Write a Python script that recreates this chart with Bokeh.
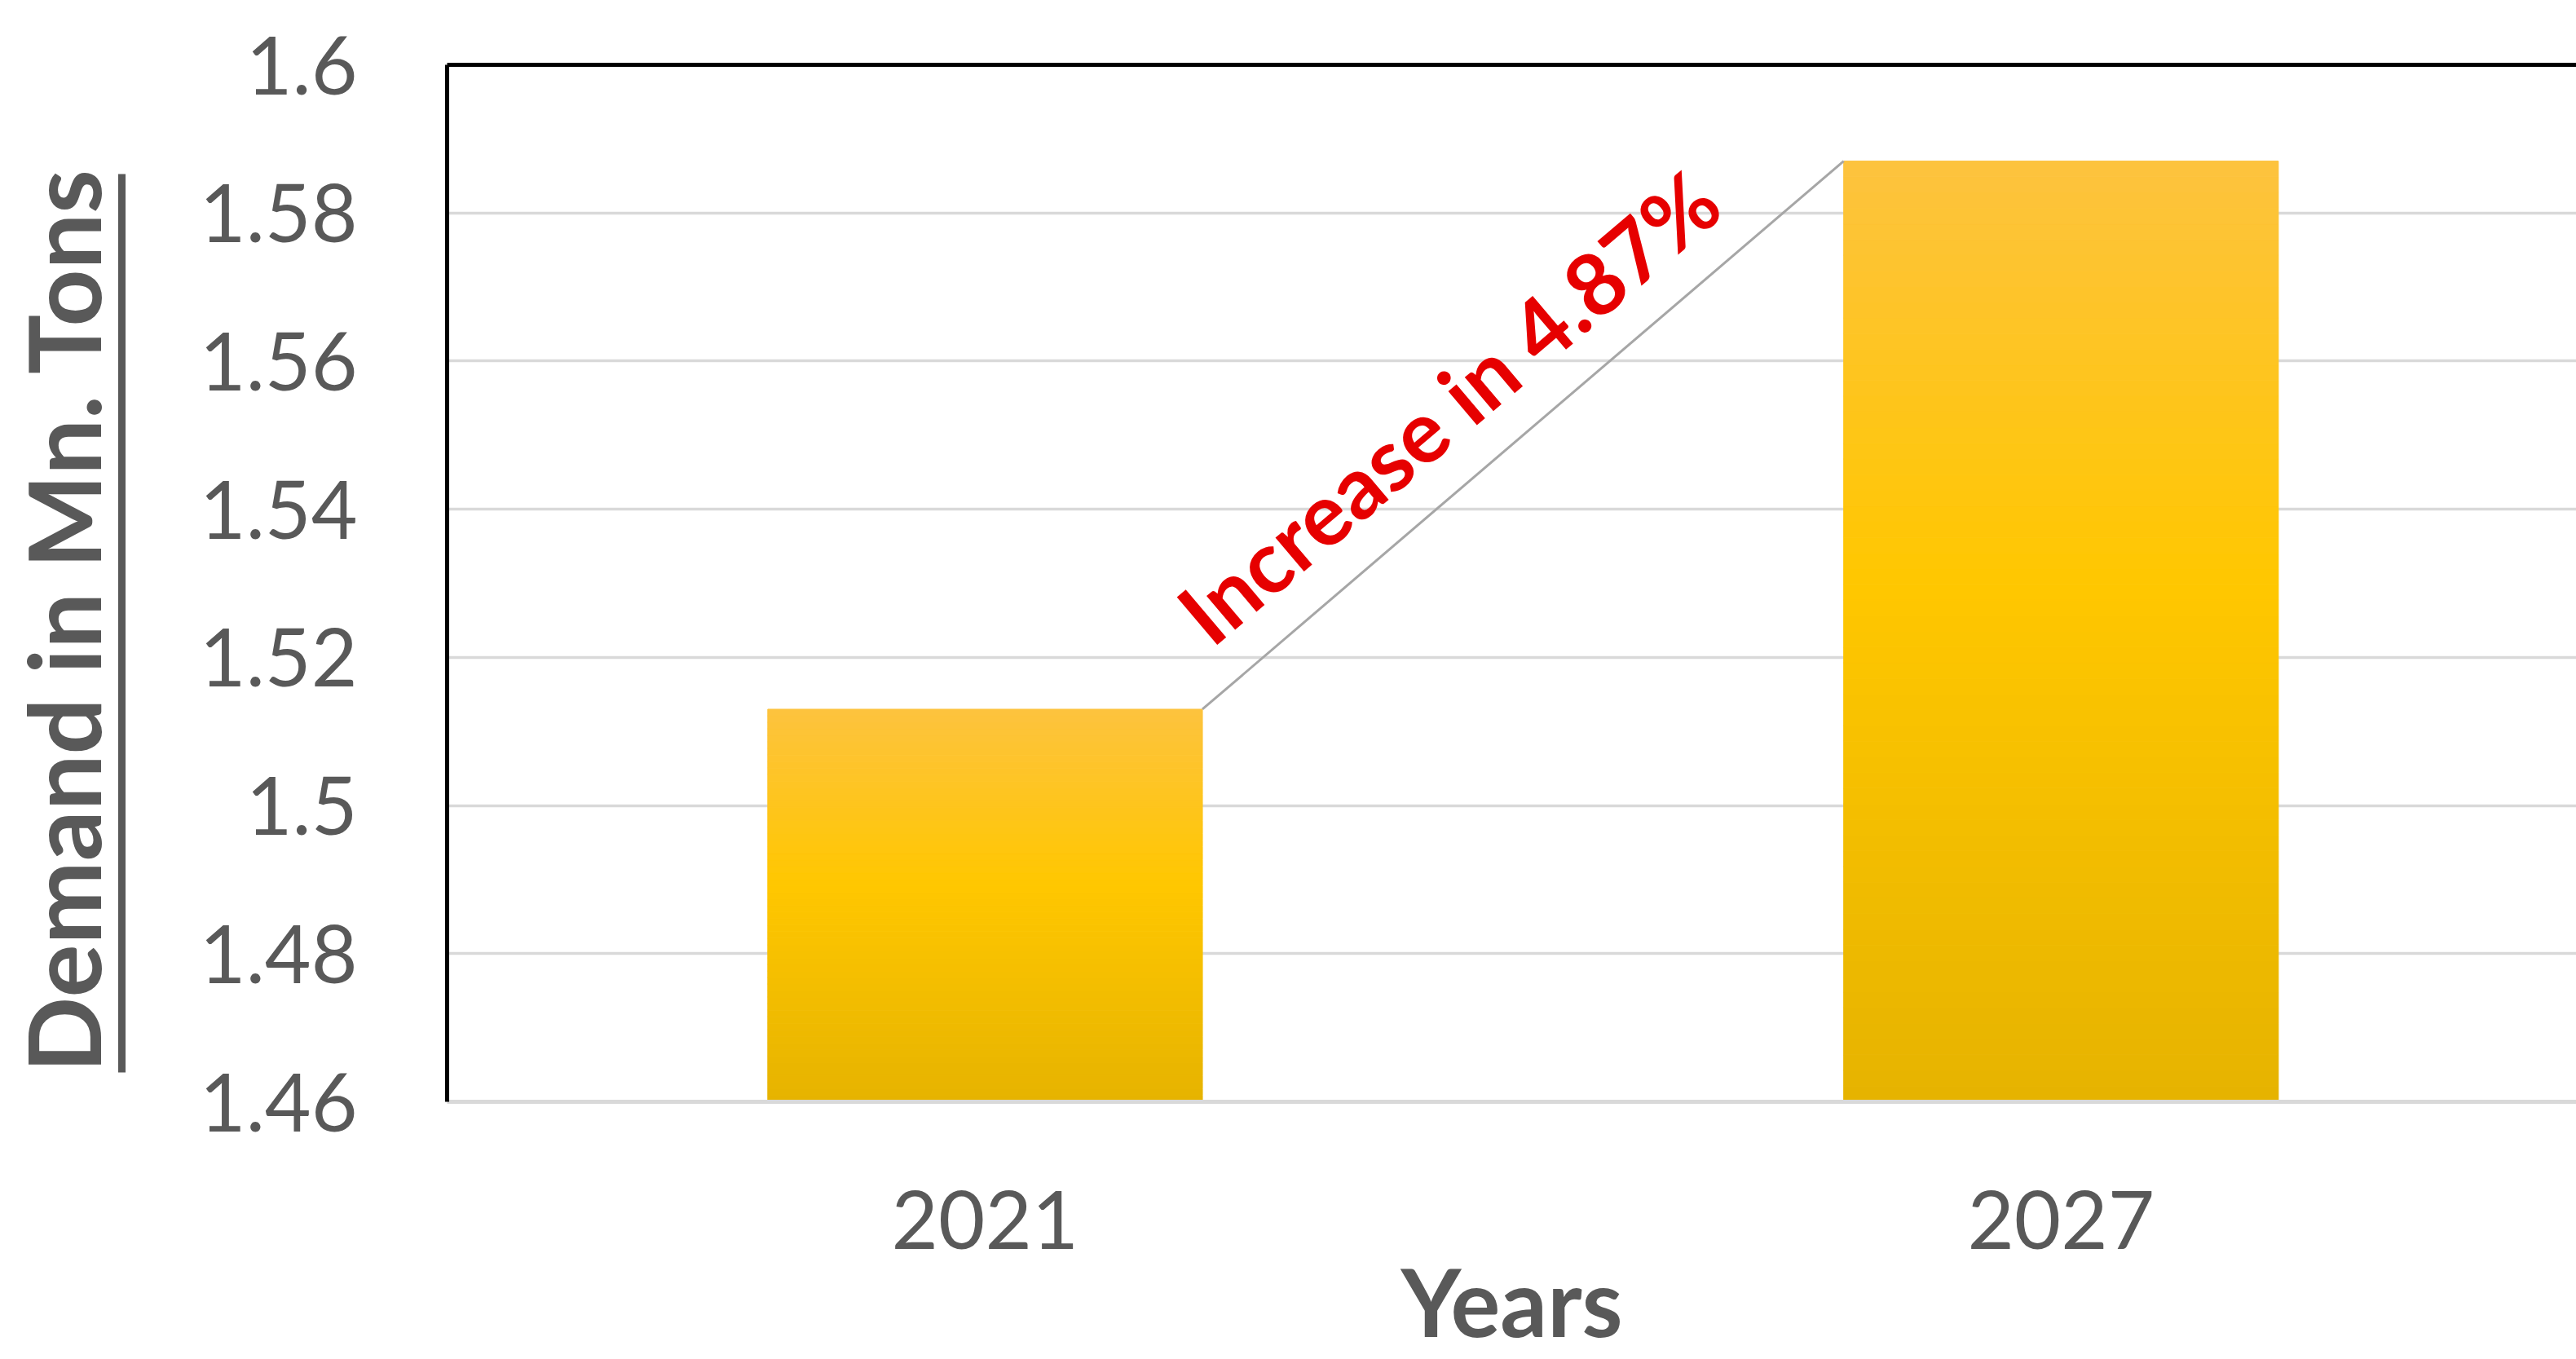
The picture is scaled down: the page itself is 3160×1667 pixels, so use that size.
import numpy as np
from bokeh.plotting import figure
from bokeh.models import FixedTicker, LinearAxis, Range1d
from bokeh.embed import file_html
from bokeh.resources import INLINE

# ---- data ----
years = ["2021", "2027"]
demand = [1.513, 1.587]
ytick_values = [1.46, 1.48, 1.50, 1.52, 1.54, 1.56, 1.58, 1.60]
ytick_labels = ["1.46", "1.48", "1.5", "1.52", "1.54", "1.56", "1.58", "1.6"]
annotation_text = "Increase in 4.87%"
y_title = "Demand in Mn. Tons"
x_title = "Years"

# ---- style / placement ----
FONT = "Lato"
GRAY = "#595959"
GRID = "#D9D9D9"
BAR_W = 0.404
Y0, Y1 = 1.46, 1.60
ANN_X, ANN_Y, ANN_ANGLE = 0.6695, 1.5834, 0.7027   # right end of the rotated note

p = figure(width=3160, height=1667, output_backend="svg", toolbar_location=None,
           x_range=Range1d(-0.5, 1.479), y_range=Range1d(Y0, Y1),
           min_border_left=536, min_border_top=79, min_border_bottom=316,
           min_border_right=0, outline_line_color=None,
           background_fill_color="white", border_fill_color="white")

# gradient bars built from stacked slices
top_c = np.array([253, 195, 62])
mid_c = np.array([255, 199, 0])
bot_c = np.array([230, 179, 0])
N = 60
xs, bottoms, tops, colors = [], [], [], []
xpos = list(range(len(years)))
for i, v in zip(xpos, demand):
    edges = np.linspace(Y0, v, N + 1)
    for k in range(N):
        t = (k + 0.5) / N
        if t < 0.55:
            c = bot_c + (mid_c - bot_c) * (t / 0.55)
        else:
            c = mid_c + (top_c - mid_c) * ((t - 0.55) / 0.45)
        c = c.round().astype(int)
        xs.append(i)
        bottoms.append(float(edges[k]))
        tops.append(float(edges[k + 1]))
        colors.append("#%02x%02x%02x" % tuple(c))
p.vbar(x=xs, width=BAR_W, bottom=bottoms, top=tops, fill_color=colors,
       line_color=colors, line_width=1)

# connector line between bar tops
p.line(x=[xpos[0] + BAR_W / 2, xpos[1] - BAR_W / 2], y=[demand[0], demand[1]],
       line_color="#A6A6A6", line_width=3)

def overrides(vals, labels):
    d = {}
    for v, s in zip(vals, labels):
        d[v] = s
        d[str(v)] = s
    return d

def no_ticks(ax):
    ax.major_tick_out = 0
    ax.major_tick_in = 0
    ax.minor_tick_out = 0
    ax.minor_tick_in = 0

# main y axis
ya = p.left[0]
ya.ticker = FixedTicker(ticks=ytick_values, minor_ticks=[])
ya.major_label_overrides = overrides(ytick_values, ytick_labels)
no_ticks(ya)
ya.major_label_standoff = 110
ya.major_label_text_font = FONT
ya.major_label_text_font_size = "98px"
ya.major_label_text_color = GRAY
ya.axis_line_color = "black"
ya.axis_line_width = 5
ya.axis_label = "."
ya.axis_label_text_alpha = 0
ya.axis_label_text_font_size = "1px"
ya.axis_label_standoff = 88

# underlined y title (axis line acts as underline); trailing no-break spaces
# nudge the centred title down to sit over its underline
ua = LinearAxis(bounds=(1.464, 1.5853), axis_line_color=GRAY, axis_line_width=9,
                axis_label=y_title + "\u00a0\u00a0\u00a0", axis_label_standoff=0,
                axis_label_text_font=FONT, axis_label_text_font_style="bold",
                axis_label_text_font_size="122px", axis_label_text_color=GRAY,
                major_label_text_font_size="1px", major_label_text_alpha=0,
                ticker=FixedTicker(ticks=[0.0], minor_ticks=[]))
no_ticks(ua)
p.add_layout(ua, "left")

# main x axis
xa = p.below[0]
xa.ticker = FixedTicker(ticks=xpos, minor_ticks=[])
xa.major_label_overrides = overrides(xpos, years)
no_ticks(xa)
xa.axis_line_color = GRID
xa.axis_line_width = 5
xa.major_label_standoff = 108
xa.major_label_text_font = FONT
xa.major_label_text_font_size = "99px"
xa.major_label_text_color = GRAY
xa.axis_label = x_title
xa.axis_label_standoff = -8
xa.axis_label_text_font = FONT
xa.axis_label_text_font_style = "bold"
xa.axis_label_text_font_size = "114px"
xa.axis_label_text_color = GRAY

# rotated red note, drawn as the single tick label of a floating axis
aa = LinearAxis(fixed_location=ANN_Y, ticker=FixedTicker(ticks=[ANN_X], minor_ticks=[]),
                major_label_overrides={ANN_X: annotation_text, str(ANN_X): annotation_text},
                major_label_orientation=ANN_ANGLE, major_label_standoff=0,
                axis_line_color=None, major_label_text_font=FONT,
                major_label_text_font_style="bold", major_label_text_font_size="106px",
                major_label_text_color="#E60000")
no_ticks(aa)
p.add_layout(aa, "below")

# top border
ta = LinearAxis(axis_line_color="black", axis_line_width=5,
                major_label_text_font_size="1px", major_label_text_alpha=0,
                ticker=FixedTicker(ticks=[-5.0], minor_ticks=[]))
no_ticks(ta)
p.add_layout(ta, "above")

p.xgrid.visible = False
p.ygrid.ticker = FixedTicker(ticks=ytick_values, minor_ticks=[])
p.ygrid.grid_line_color = GRID
p.ygrid.grid_line_width = 3.5

open("out.html", "w").write(file_html(p, INLINE))
